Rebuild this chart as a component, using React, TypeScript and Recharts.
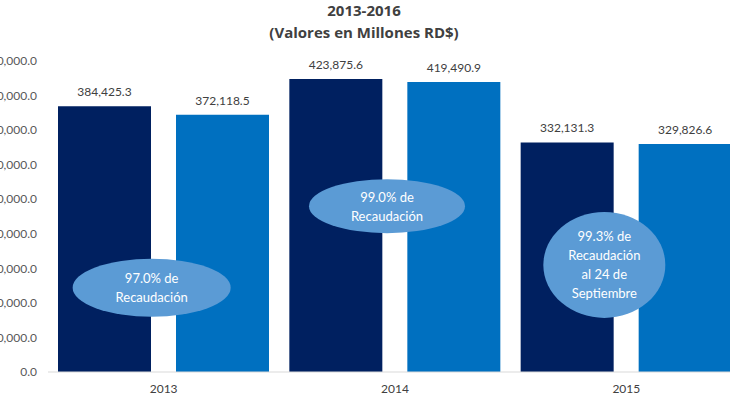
import React from 'react';
import { BarChart, Bar, XAxis, YAxis, LabelList, ReferenceDot } from 'recharts';

const years = ['2013', '2014', '2015'];
const estimado = [384425.3, 423875.6, 332131.3];
const recaudado = [372118.5, 419490.9, 329826.6];
const yTicks = [0, 50000, 100000, 150000, 200000, 250000, 300000, 350000, 400000, 450000];

// annotation bubbles: anchored on a category and a value level
const noteYears = ['2013', '2014', '2015'];
const noteLevels = [122000, 240000, 155000];
const noteLines = [
  ['97.0% de', 'Recaudación'],
  ['99.0% de', 'Recaudación'],
  ['99.3% de', 'Recaudación', 'al 24 de', 'Septiembre'],
];
const noteShapes = [
  { dx: -12, rx: 79, ry: 29 },
  { dx: -8, rx: 78, ry: 27 },
  { dx: -22, rx: 61, ry: 53 },
];

const data = years.map((y, i) => ({ year: y, estimado: estimado[i], recaudado: recaudado[i] }));

const fmt = (v: number) =>
  Number(v).toLocaleString('en-US', { minimumFractionDigits: 1, maximumFractionDigits: 1 });

const makeBubble = (idx: number) => (p: any) => {
  const s = noteShapes[idx];
  const lines = noteLines[idx];
  const cx = p.cx + s.dx;
  const cy = p.cy;
  const lh = 19;
  const start = cy - ((lines.length - 1) * lh) / 2;
  return (
    <g>
      <ellipse cx={cx} cy={cy} rx={s.rx} ry={s.ry} fill="#5b9bd5" />
      {lines.map((t, k) => (
        <text
          key={k}
          x={cx}
          y={start + k * lh}
          textAnchor="middle"
          dominantBaseline="central"
          fill="#ffffff"
          fontSize={13}
          fontFamily="Lato"
        >
          {t}
        </text>
      ))}
    </g>
  );
};

export default function App() {
  return (
    <div
      style={{
        position: 'absolute',
        left: 0,
        top: 0,
        width: 730,
        height: 400,
        overflow: 'hidden',
        background: '#ffffff',
        fontFamily: 'Lato, sans-serif',
      }}
    >
      <div
        style={{
          position: 'absolute',
          left: 264,
          top: -1,
          width: 200,
          textAlign: 'center',
          fontWeight: 'bold',
          fontSize: 15,
          lineHeight: '22px',
          color: '#404040',
          fontFamily: '"Open Sans", sans-serif',
        }}
      >
        <div>2013-2016</div>
        <div>(Valores en Millones RD$)</div>
      </div>
      <div style={{ position: 'absolute', left: -40, top: 0 }}>
        <BarChart
          width={790}
          height={400}
          data={data}
          margin={{ top: 61, right: 8, bottom: 4, left: 8 }}
          barCategoryGap={10}
          barGap={25}
        >
          <XAxis
            dataKey="year"
            axisLine={{ stroke: '#d9d9d9' }}
            tickLine={false}
            tickMargin={6}
            height={24}
            tick={{ fill: '#404040', fontSize: 12, fontFamily: 'Lato' }}
          />
          <YAxis
            domain={[0, 450000]}
            ticks={yTicks}
            width={80}
            axisLine={false}
            tickLine={false}
            tickMargin={5}
            tickFormatter={fmt}
            tick={{ fill: '#595959', fontSize: 12, fontFamily: 'Lato' }}
          />
          <Bar dataKey="estimado" fill="#002060" isAnimationActive={false}>
            <LabelList
              dataKey="estimado"
              position="top"
              offset={10}
              formatter={fmt}
              style={{ fill: '#404040', fontSize: 12, fontFamily: 'Lato' }}
            />
          </Bar>
          <Bar dataKey="recaudado" fill="#0070c0" isAnimationActive={false}>
            <LabelList
              dataKey="recaudado"
              position="top"
              offset={10}
              formatter={fmt}
              style={{ fill: '#404040', fontSize: 12, fontFamily: 'Lato' }}
            />
          </Bar>
          {noteYears.map((y, i) => (
            <ReferenceDot
              key={y}
              x={y}
              y={noteLevels[i]}
              r={1}
              ifOverflow="visible"
              shape={makeBubble(i)}
            />
          ))}
        </BarChart>
      </div>
    </div>
  );
}
